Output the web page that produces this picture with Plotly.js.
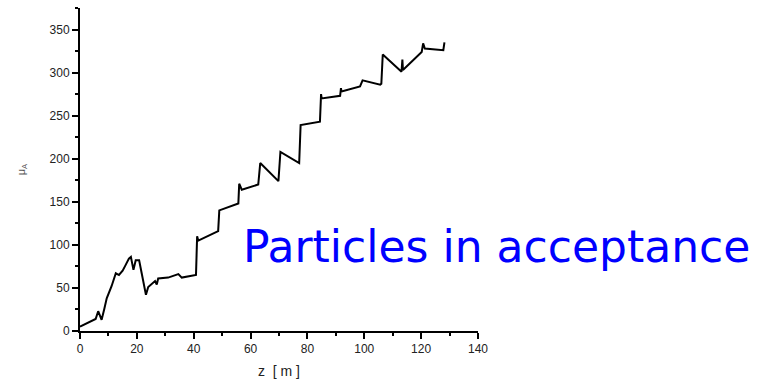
<!DOCTYPE html>
<html>
<head>
<meta charset="utf-8">
<script src="https://cdn.plot.ly/plotly-3.0.1.min.js"></script>
<style>html,body{margin:0;padding:0;background:#fff;}#chart{width:764px;height:379px;}</style>
</head>
<body>
<div id="chart"></div>
<script>
// z position [m]
const zValues = [0, 2, 4, 5.5, 6.4, 7.0, 7.6, 8.5, 9.4, 11.1, 12.6, 13.7, 15, 15.8, 17.2, 17.9, 18.8, 19.6, 20.8, 21.7,
  23.2, 24, 25.8, 26.4, 27, 27.5, 31, 34.6, 35.8, 40.8, 41.2, 41.6, 48.6, 49.0, 55.7, 56.0, 56.9, 62.7, 63.4, 69.8,
  70.5, 77.1, 77.6, 84.4, 84.8, 85.0, 91.5, 91.8, 92.0, 98.5, 99.4, 105.6, 106.0, 106.5, 113.1, 113.4, 113.6,
  120.2, 120.7, 121.3, 127.8, 128.2];
// mu_A values
const muValues = [5, 8, 11, 14, 23, 18, 13, 25, 38, 52, 67, 65, 70, 75, 84, 86, 71, 82, 82, 67,
  42, 51, 56, 58, 54, 61, 62, 66, 62, 65, 110, 105, 116, 140, 148, 171, 164, 170, 195, 174,
  208, 195, 239, 243, 275, 270, 273, 282, 278, 284, 291, 286, 287, 321, 301, 315, 303,
  324, 334, 328, 326, 335];
const xTickVals = [0, 20, 40, 60, 80, 100, 120, 140];
const yTickVals = [0, 50, 100, 150, 200, 250, 300, 350];
const annotationText = "Particles in acceptance";

const tickFont = {family: "Liberation Sans, Arial, sans-serif", size: 12, color: "#222"};

const trace = {
  x: zValues, y: muValues, type: "scatter", mode: "lines",
  line: {color: "#000", width: 2}, hoverinfo: "none"
};

const layout = {
  width: 764, height: 379,
  margin: {l: 80, r: 286, t: 8, b: 48},
  paper_bgcolor: "#fff", plot_bgcolor: "#fff",
  showlegend: false,
  xaxis: {
    range: [0, 140], tickvals: xTickVals, showgrid: false, zeroline: false,
    showline: true, linecolor: "#000", linewidth: 2,
    ticks: "outside", ticklen: 6, tickwidth: 2, tickcolor: "#000",
    minor: {ticks: "outside", ticklen: 3, tickwidth: 2, tickcolor: "#000", dtick: 10, showgrid: false},
    tickfont: tickFont,
    title: {text: "z  [ m ]", font: {family: "Liberation Sans, Arial, sans-serif", size: 14, color: "#222"}, standoff: 12}
  },
  yaxis: {
    range: [0, 375], tickvals: yTickVals, showgrid: false, zeroline: false,
    showline: true, linecolor: "#000", linewidth: 2,
    ticks: "outside", ticklen: 6, tickwidth: 2, tickcolor: "#000",
    minor: {ticks: "outside", ticklen: 3, tickwidth: 2, tickcolor: "#000", dtick: 25, showgrid: false},
    tickfont: tickFont,
    title: {text: "μ<sub>A</sub>", font: {family: "Liberation Sans, Arial, sans-serif", size: 11, color: "#555"}, standoff: 22}
  },
  annotations: [{
    text: annotationText, xref: "paper", yref: "paper",
    x: 1.047, y: 0.262, xanchor: "center", yanchor: "middle", showarrow: false,
    font: {family: "DejaVu Sans", size: 44, color: "#0000ff"}
  }]
};

Plotly.newPlot("chart", [trace], layout, {staticPlot: true, displayModeBar: false});
</script>
</body>
</html>
